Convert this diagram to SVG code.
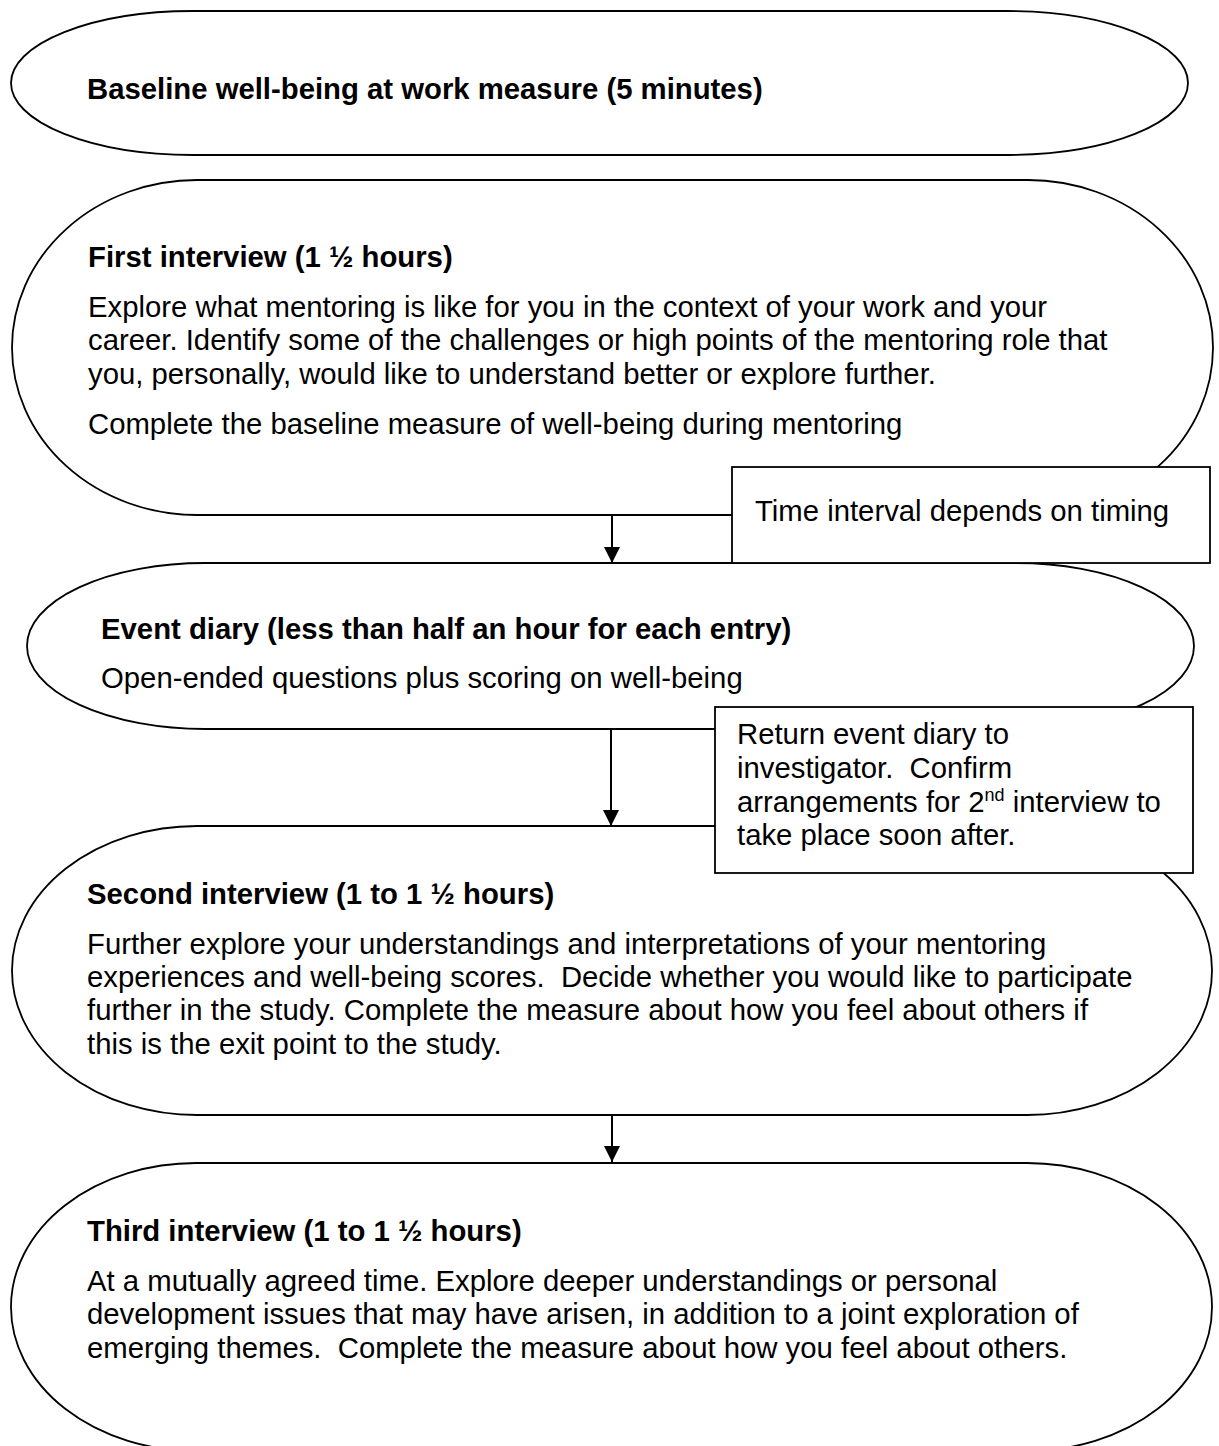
<svg xmlns="http://www.w3.org/2000/svg" width="1219" height="1446" viewBox="0 0 1219 1446">
<style>
.shape{fill:#fff;stroke:#000;stroke-width:1.8}
.box{fill:#fff;stroke:#000;stroke-width:1.8}
text{font-family:"Liberation Sans",Arial,sans-serif;font-size:29.3px;fill:#000;white-space:pre}
.b{font-weight:bold}
.conn line{stroke:#000;stroke-width:2}
</style>
<defs>
<marker id="ah" markerUnits="userSpaceOnUse" markerWidth="16" markerHeight="16" refX="16" refY="8" orient="auto">
<path d="M0,0 L16,8 L0,16 Z" fill="#000"/>
</marker>
</defs>
<rect width="1219" height="1446" fill="#fff"/>

<g id="baseline">
<path class="shape" d="M193,11 H1007 A181,72 0 0 1 1007,155 H193 A182,72 0 0 1 193,11 Z"/>
<text class="b" x="87" y="99">Baseline well-being at work measure (5 minutes)</text>
</g>

<g id="first-interview">
<path class="shape" d="M197,180 H1028 A185,167.5 0 0 1 1028,515 H197 A185,167.5 0 0 1 197,180 Z"/>
<text class="b" x="88" y="267">First interview (1 ½ hours)</text>
<text x="88" y="317">Explore what mentoring is like for you in the context of your work and your</text>
<text x="88" y="350">career. Identify some of the challenges or high points of the mentoring role that</text>
<text x="88" y="384">you, personally, would like to understand better or explore further.</text>
<text x="88" y="434">Complete the baseline measure of well-being during mentoring</text>
</g>

<g id="event-diary">
<path class="shape" d="M205,563 H1016 A178,83 0 0 1 1016,729 H205 A178,83 0 0 1 205,563 Z"/>
<text class="b" x="101" y="639">Event diary (less than half an hour for each entry)</text>
<text x="101" y="688">Open-ended questions plus scoring on well-being</text>
</g>

<g id="second-interview">
<path class="shape" d="M197,826 H1027 A185,144.5 0 0 1 1027,1115 H197 A185,144.5 0 0 1 197,826 Z"/>
<text class="b" x="87" y="904">Second interview (1 to 1 ½ hours)</text>
<text x="87" y="954">Further explore your understandings and interpretations of your mentoring</text>
<text x="87" y="987">experiences and well-being scores.  Decide whether you would like to participate</text>
<text x="87" y="1020">further in the study. Complete the measure about how you feel about others if</text>
<text x="87" y="1054">this is the exit point to the study.</text>
</g>

<g id="third-interview">
<path class="shape" d="M196,1163 H1027 A185,144 0 0 1 1027,1451 H196 A185,144 0 0 1 196,1163 Z"/>
<text class="b" x="87" y="1241">Third interview (1 to 1 ½ hours)</text>
<text x="87" y="1291">At a mutually agreed time. Explore deeper understandings or personal</text>
<text x="87" y="1324">development issues that may have arisen, in addition to a joint exploration of</text>
<text x="87" y="1358">emerging themes.  Complete the measure about how you feel about others.</text>
</g>

<g id="note-interval">
<rect class="box" x="732" y="467" width="478" height="96"/>
<text x="755" y="521">Time interval depends on timing</text>
</g>

<g id="note-return">
<rect class="box" x="715" y="707" width="478" height="166"/>
<text x="737" y="744">Return event diary to</text>
<text x="737" y="778">investigator.  Confirm</text>
<text x="737" y="812">arrangements for 2<tspan font-size="18" dy="-11">nd</tspan><tspan dy="11"> interview to</tspan></text>
<text x="737" y="845">take place soon after.</text>
</g>

<g id="connectors" class="conn">
<line x1="612" y1="515" x2="612" y2="563" marker-end="url(#ah)"/>
<line x1="611" y1="729" x2="611" y2="826" marker-end="url(#ah)"/>
<line x1="612" y1="1115" x2="612" y2="1162" marker-end="url(#ah)"/>
</g>
</svg>
